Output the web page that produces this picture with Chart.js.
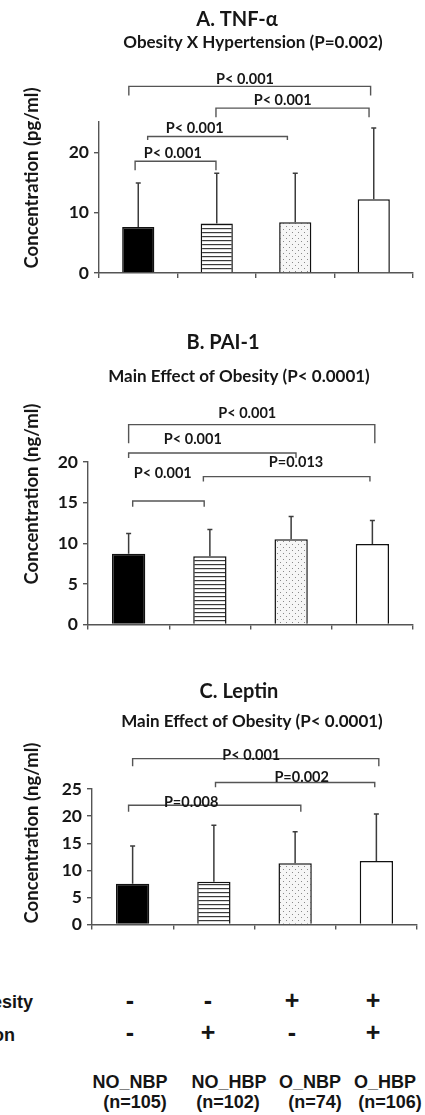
<!DOCTYPE html>
<html>
<head>
<meta charset="utf-8">
<script src="https://cdn.jsdelivr.net/npm/chart.js@4.4.1/dist/chart.umd.min.js"></script>
<style>
  html, body { margin: 0; padding: 0; background: #fff; }
  body { position: relative; width: 425px; height: 1115px; overflow: hidden; }
  .panel { position: absolute; left: 0; }
  .lbl { position: absolute; font: bold 18px "Liberation Sans", Arial, sans-serif; color: #151515; white-space: nowrap; line-height: 1; transform: translate(-50%, -50%); }
  .row { position: absolute; font: bold 18px "Liberation Sans", Arial, sans-serif; color: #151515; white-space: nowrap; line-height: 1; text-align: right; transform: translateY(-50%); }
  .sign { font-size: 25px; }
</style>
</head>
<body>
<canvas id="chartTNF" class="panel" style="top:0" width="425" height="300"></canvas>
<canvas id="chartPAI" class="panel" style="top:300px" width="425" height="340"></canvas>
<canvas id="chartLeptin" class="panel" style="top:640px" width="425" height="300"></canvas>
<div id="table"></div>

<script>
// ---- data ----
const groups = ['NO_NBP', 'NO_HBP', 'O_NBP', 'O_HBP'];
const groupSizes = ['(n=105)', '(n=102)', '(n=74)', '(n=106)'];
const obesitySigns = ['-', '-', '+', '+'];
const hypertensionSigns = ['-', '+', '-', '+'];

const tnfMean = [7.6, 8.2, 8.4, 12.2];
const tnfSD = [7.3, 8.3, 8.1, 11.8];
const tnfTicks = [0, 10, 20];

const paiMean = [8.7, 8.4, 10.5, 9.9];
const paiSD = [2.5, 3.3, 2.8, 2.9];
const paiTicks = [0, 5, 10, 15, 20];

const leptinMean = [7.5, 7.9, 11.3, 11.7];
const leptinSD = [7.0, 10.4, 5.8, 8.7];
const leptinTicks = [0, 5, 10, 15, 20, 25];

// pairwise comparisons: group indices (with small offsets), bracket level, leg end, label position
const tnfPairs = [
  { from: -0.12, to: 2.96, level: 30.9, leg: 29.4, text: 'P< 0.001', tx: 1.36, ty: 32.1 },
  { from: 0.99, to: 2.94, level: 27.3, leg: 25.8, text: 'P< 0.001', tx: 1.84, ty: 28.6 },
  { from: 0.12, to: 1.90, level: 22.6, leg: 22.0, text: 'P< 0.001', tx: 0.72, ty: 24.0 },
  { from: -0.04, to: 0.99, level: 18.5, leg: 17.0, text: 'P< 0.001', tx: 0.44, ty: 19.8 }
];
const paiPairs = [
  { from: 0.0, to: 3.03, level: 24.6, leg: 22.3, text: 'P< 0.001', tx: 1.46, ty: 26.0 },
  { from: 0.0, to: 2.06, level: 21.1, leg: 20.5, text: 'P< 0.001', tx: 0.79, ty: 22.8 },
  { from: 0.92, to: 2.97, level: 18.2, leg: 17.6, text: 'P=0.013', tx: 2.06, ty: 19.9 },
  { from: 0.05, to: 0.93, level: 15.2, leg: 14.5, text: 'P< 0.001', tx: 0.42, ty: 18.6 }
];
const leptinPairs = [
  { from: 0.0, to: 3.03, level: 30.6, leg: 29.2, text: 'P< 0.001', tx: 1.46, ty: 31.3 },
  { from: 1.02, to: 2.98, level: 26.2, leg: 25.3, text: 'P=0.002', tx: 2.08, ty: 27.1 },
  { from: -0.05, to: 2.07, level: 22.0, leg: 20.8, text: 'P=0.008', tx: 0.72, ty: 22.6 }
];

// ---- styling helpers ----
const INK = '#161616';
const LINE = '#555';
const FONT = 'Lato, "Open Sans", sans-serif';

function stripePattern() {
  const c = document.createElement('canvas');
  c.width = 4; c.height = 4;
  const g = c.getContext('2d');
  g.fillStyle = '#fff'; g.fillRect(0, 0, 4, 4);
  g.fillStyle = '#3a3a3a'; g.fillRect(0, 0, 4, 1.2);
  return g.createPattern(c, 'repeat');
}
function dotPattern() {
  const c = document.createElement('canvas');
  c.width = 6; c.height = 6;
  const g = c.getContext('2d');
  g.fillStyle = '#f6f6f6'; g.fillRect(0, 0, 6, 6);
  g.fillStyle = '#8a8a8a';
  g.fillRect(1, 1, 1, 1);
  g.fillRect(4, 4, 1, 1);
  return g.createPattern(c, 'repeat');
}
const fills = ['#000', stripePattern(), dotPattern(), '#fff'];

// error bars, comparison brackets and panel titles
const panelDecor = {
  id: 'panelDecor',
  afterDatasetsDraw(chart, args, opts) {
    const { ctx, scales: { x, y } } = chart;
    const meta = chart.getDatasetMeta(0);
    const data = chart.data.datasets[0].data;
    ctx.save();
    ctx.strokeStyle = '#3c3c3c';
    ctx.lineWidth = 1.5;
    opts.sd.forEach((sd, i) => {
      const bar = meta.data[i];
      const top = y.getPixelForValue(data[i] + sd);
      ctx.beginPath();
      ctx.moveTo(bar.x, bar.y);
      ctx.lineTo(bar.x, top);
      ctx.moveTo(bar.x - 2.5, top);
      ctx.lineTo(bar.x + 2.5, top);
      ctx.stroke();
    });

    ctx.strokeStyle = LINE;
    ctx.lineWidth = 1.4;
    ctx.fillStyle = INK;
    ctx.font = 'bold 14.5px ' + FONT;
    ctx.textAlign = 'center';
    ctx.textBaseline = 'middle';
    opts.pairs.forEach(p => {
      const x0 = x.getPixelForValue(p.from);
      const x1 = x.getPixelForValue(p.to);
      const yl = y.getPixelForValue(p.level);
      const yd = y.getPixelForValue(p.leg);
      ctx.beginPath();
      ctx.moveTo(x0, yd);
      ctx.lineTo(x0, yl);
      ctx.lineTo(x1, yl);
      ctx.lineTo(x1, yd);
      ctx.stroke();
      ctx.fillText(p.text, x.getPixelForValue(p.tx), y.getPixelForValue(p.ty));
    });
    ctx.restore();
  },
  afterDraw(chart, args, opts) {
    const { ctx } = chart;
    ctx.save();
    ctx.fillStyle = INK;
    ctx.textAlign = 'center';
    ctx.textBaseline = 'middle';
    ctx.font = 'bold 20px ' + FONT;
    ctx.fillText(opts.title.text, opts.title.x, opts.title.y);
    ctx.font = 'bold 17px ' + FONT;
    ctx.fillText(opts.subtitle.text, opts.subtitle.x, opts.subtitle.y);
    ctx.translate(opts.yTitle.x, opts.yTitle.y);
    ctx.rotate(-Math.PI / 2);
    ctx.font = 'bold 18.5px ' + FONT;
    ctx.fillText(opts.yTitle.text, 0, 0);
    ctx.restore();
  }
};

function makeChart(id, cfg) {
  return new Chart(document.getElementById(id), {
    type: 'bar',
    data: {
      labels: groups,
      datasets: [{
        data: cfg.mean,
        backgroundColor: fills,
        borderColor: '#111',
        borderWidth: 1.5,
        borderSkipped: 'bottom',
        categoryPercentage: 1,
        barPercentage: 0.41
      }]
    },
    options: {
      responsive: false,
      animation: false,
      devicePixelRatio: 1,
      layout: { padding: cfg.padding },
      plugins: {
        legend: { display: false },
        tooltip: { enabled: false },
        panelDecor: { sd: cfg.sd, pairs: cfg.pairs, title: cfg.title, subtitle: cfg.subtitle, yTitle: cfg.yTitle }
      },
      scales: {
        x: {
          type: 'category',
          offset: true,
          ticks: { display: false },
          grid: { display: true, offset: true, drawOnChartArea: false, drawTicks: true, tickLength: 5, color: LINE, lineWidth: 1.4 },
          border: { display: true, color: LINE, width: 1.4 },
          afterFit(s) { s.height = 6; }
        },
        y: {
          min: 0,
          max: cfg.max,
          afterBuildTicks(s) { s.ticks = cfg.ticks.map(v => ({ value: v })); },
          ticks: { color: INK, font: { family: FONT, size: 17.5, weight: 'bold' }, padding: 5 },
          grid: { display: true, drawOnChartArea: false, drawTicks: true, tickLength: 5, color: LINE, lineWidth: 1.4 },
          border: { display: true, color: LINE, width: 1.4 },
          afterFit(s) { s.width = cfg.axisX; }
        }
      }
    },
    plugins: [panelDecor]
  });
}

function build() {
  makeChart('chartTNF', {
    mean: tnfMean, sd: tnfSD, pairs: tnfPairs, ticks: tnfTicks, max: 25, axisX: 99,
    padding: { top: 122, bottom: 21, left: 0, right: 12 },
    title: { text: 'A. TNF-α', x: 237, y: 20 },
    subtitle: { text: 'Obesity X Hypertension (P=0.002)', x: 253, y: 43 },
    yTitle: { text: 'Concentration (pg/ml)', x: 32, y: 178 }
  });
  makeChart('chartPAI', {
    mean: paiMean, sd: paiSD, pairs: paiPairs, ticks: paiTicks, max: 20, axisX: 88,
    padding: { top: 162, bottom: 6, left: 0, right: 12 },
    title: { text: 'B. PAI-1', x: 223, y: 43 },
    subtitle: { text: 'Main Effect of Obesity (P< 0.0001)', x: 239, y: 77 },
    yTitle: { text: 'Concentration (ng/ml)', x: 32, y: 194 }
  });
  makeChart('chartLeptin', {
    mean: leptinMean, sd: leptinSD, pairs: leptinPairs, ticks: leptinTicks, max: 25, axisX: 92,
    padding: { top: 149, bottom: 2, left: 0, right: 8 },
    title: { text: 'C. Leptin', x: 239, y: 52 },
    subtitle: { text: 'Main Effect of Obesity (P< 0.0001)', x: 252, y: 82 },
    yTitle: { text: 'Concentration (ng/ml)', x: 32, y: 193 }
  });

  // group design table under the charts
  const table = document.getElementById('table');
  const add = (cls, text, style) => {
    const d = document.createElement('div');
    d.className = cls; d.textContent = text;
    Object.assign(d.style, style);
    table.appendChild(d);
  };
  add('row', 'Obesity', { right: (425 - 33) + 'px', top: '1002px' });
  add('row', 'Hypertension', { right: (425 - 15) + 'px', top: '1035px' });
  const signX = [130, 208, 292, 373];
  const nameX = [130, 229, 310, 385];
  const sizeX = [135, 228, 315, 390];
  groups.forEach((g, i) => {
    add('lbl sign', obesitySigns[i], { left: signX[i] + 'px', top: '1000px' });
    add('lbl sign', hypertensionSigns[i], { left: signX[i] + 'px', top: '1032px' });
    add('lbl', g, { left: nameX[i] + 'px', top: '1082px' });
    add('lbl', groupSizes[i], { left: sizeX[i] + 'px', top: '1102px' });
  });
}

if (document.fonts && document.fonts.load) {
  Promise.all([
    document.fonts.load('bold 16px Lato'),
    document.fonts.load('bold 18px "Liberation Sans"')
  ]).then(build, build);
} else {
  build();
}
</script>
</body>
</html>
